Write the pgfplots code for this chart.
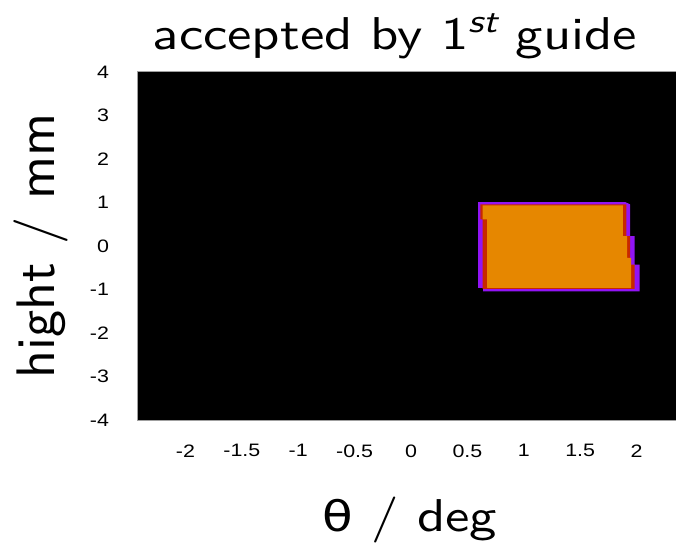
\documentclass[border=0pt]{standalone}
\usepackage{pgfplots}
\pgfplotsset{compat=1.18}
\usepackage{fontspec}
\newfontfamily\lmss{lmsans10-regular.otf}[ItalicFont=lmsans10-oblique.otf]
\newfontfamily\dejavu{DejaVu Sans}
\newfontfamily\tickfont{Liberation Sans}
\definecolor{purp}{RGB}{145,20,245}
\definecolor{redd}{RGB}{200,40,0}
\definecolor{orng}{RGB}{230,135,0}
\begin{document}
\begin{tikzpicture}[x=1pt,y=1pt]
\begin{axis}[
  at={(0,0)}, anchor=south west,
  scale only axis, width=539pt, height=348pt,
  xmin=-2.43, xmax=2.35, ymin=-4, ymax=4,
  xtick={-2,-1.5,...,2}, ytick={-4,-3,...,4},
  /pgf/number format/assume math mode=true,
  tick label style={font=\tickfont\fontsize{18}{20}\selectfont, xscale=1.19},
  xticklabel style={yshift=-21pt},
  yticklabel style={xshift=-20pt},
  axis background/.style={fill=black},
  axis line style={draw=gray!75, line width=1pt},
  tick align=inside, major tick length=4pt,
  ytick style={black, line width=1pt},
  xtick style={draw=none},
  clip=true,
]
\addplot[fill=purp, draw=none] coordinates {
 (0.596,1.010) (1.900,1.010) (1.944,0.956) (1.944,0.227) (1.982,0.227)
 (1.982,-0.426) (2.027,-0.426) (2.027,-1.041) (0.640,-1.041) (0.640,-0.964)
 (0.596,-0.964) (0.596,1.010)};
\addplot[fill=redd, draw=none] coordinates {
 (0.616,0.956) (1.909,0.956) (1.909,0.227) (1.944,0.227) (1.944,-0.426)
 (1.982,-0.426) (1.982,-0.987) (0.634,-0.987) (0.634,0.611) (0.616,0.611)
 (0.616,0.956)};
\addplot[fill=orng, draw=none] coordinates {
 (0.634,0.933) (1.879,0.933) (1.879,0.227) (1.917,0.227) (1.917,-0.273)
 (1.953,-0.273) (1.953,-0.964) (0.675,-0.964) (0.675,0.611) (0.634,0.611)
 (0.634,0.933)};
\end{axis}
\node[anchor=base, xscale=1.19, font=\lmss\fontsize{46}{50}\selectfont] at (258,370) {accepted by 1\raisebox{17pt}{\fontsize{33}{35}\selectfont\itshape st} guide};
\node[anchor=base, xscale=1.19, font=\lmss\fontsize{46}{50}\selectfont] at (273,-111) {{\dejavu\fontsize{42}{46}\selectfont θ} / deg};
\node[anchor=base, scale=1.18, rotate=90, font=\lmss\fontsize{46}{50}\selectfont] at (-82,174) {hight / mm};
\pgfresetboundingbox
\path[use as bounding box] (-137,-123) rectangle (539,420);
\end{tikzpicture}
\end{document}
